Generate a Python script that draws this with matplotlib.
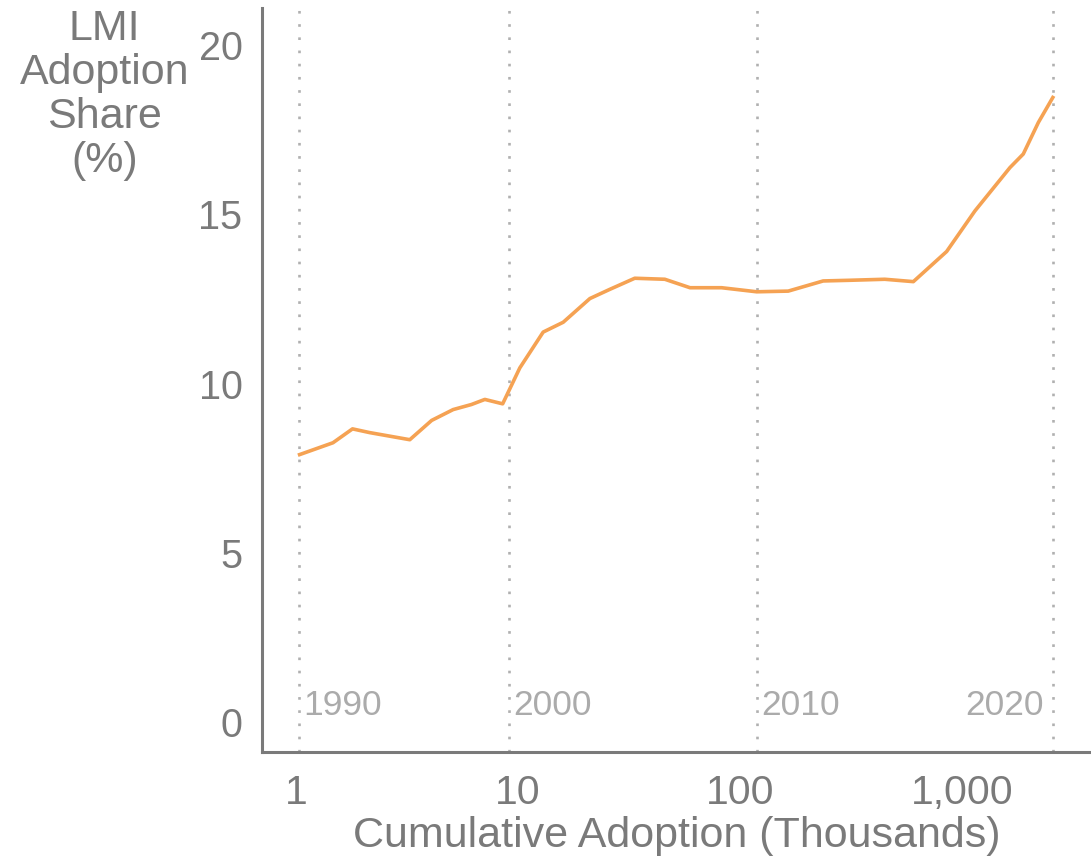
import matplotlib
matplotlib.use("Agg")
import matplotlib.pyplot as plt

# cumulative adoption (thousands) and LMI share (%), one point per year 1990-2020
adoption = [1.04, 1.47, 1.80, 2.15, 3.26, 4.09, 5.11, 6.18, 7.10, 8.54,
            10.2, 13.0, 16.0, 21.1, 25.9, 33.6, 45.9, 59.6, 82.7, 119,
            165, 237, 313, 449, 604, 853, 1144, 1645, 1888, 2207, 2565]
lmi_share = [7.90, 8.25, 8.66, 8.55, 8.34, 8.91, 9.23, 9.38, 9.53, 9.40,
             10.46, 11.52, 11.81, 12.51, 12.78, 13.11, 13.08, 12.83, 12.83, 12.71,
             12.73, 13.03, 13.05, 13.08, 13.01, 13.90, 15.10, 16.38, 16.78, 17.71, 18.45]

decade_years = ["1990", "2000", "2010", "2020"]
decade_pos = [1.03, 9.1, 119, 2570]

x_ticks = [1, 10, 100, 1000]
x_ticklabels = ["1", "10", "100", "1,000"]
y_ticks = [0, 5, 10, 15, 20]

plt.rcParams['font.family'] = ['Liberation Sans', 'DejaVu Sans']

axis_gray = "#7a7a7a"
year_gray = "#ababab"
orange = "#f5a253"

fig = plt.figure(figsize=(10.91, 8.56), dpi=100)
ax = fig.add_axes([0.240, 0.1215, 0.760, 0.869])

for pos in decade_pos:
    ax.axvline(pos, color="#b0b0b0", lw=1.9, linestyle=(0, (1, 4)), zorder=1)

ax.plot(adoption, lmi_share, color=orange, lw=2.6, zorder=3)

for yr, pos in zip(decade_years, decade_pos):
    if yr == "2020":
        ax.annotate(yr, (pos, 0.5), xytext=(-7, 0), textcoords="offset points",
                    ha="right", va="center", fontsize=25.5, color=year_gray)
    else:
        ax.annotate(yr, (pos, 0.5), xytext=(3, 0), textcoords="offset points",
                    ha="left", va="center", fontsize=25.5, color=year_gray)

ax.set_xscale("log")
ax.set_xlim(0.703, 3811)
ax.set_ylim(-0.886, 21.09)
ax.set_xticks(x_ticks)
ax.set_xticklabels(x_ticklabels)
ax.minorticks_off()
ax.set_yticks(y_ticks)
ax.tick_params(axis="both", length=0, colors=axis_gray)
ax.tick_params(axis="x", pad=16, labelsize=29.5)
ax.tick_params(axis="y", pad=14, labelsize=28.5)

for side in ["top", "right"]:
    ax.spines[side].set_visible(False)
for side in ["left", "bottom"]:
    ax.spines[side].set_color(axis_gray)
    ax.spines[side].set_linewidth(2.2)

fig.text(0.62, 0.023, "Cumulative Adoption (Thousands)", ha="center", va="center",
         fontsize=31, color=axis_gray)
fig.text(0.096, 0.99, "LMI\nAdoption\nShare\n(%)", ha="center", va="top",
         fontsize=31, color=axis_gray, linespacing=1.13)

fig.savefig("out.png", dpi=100)
